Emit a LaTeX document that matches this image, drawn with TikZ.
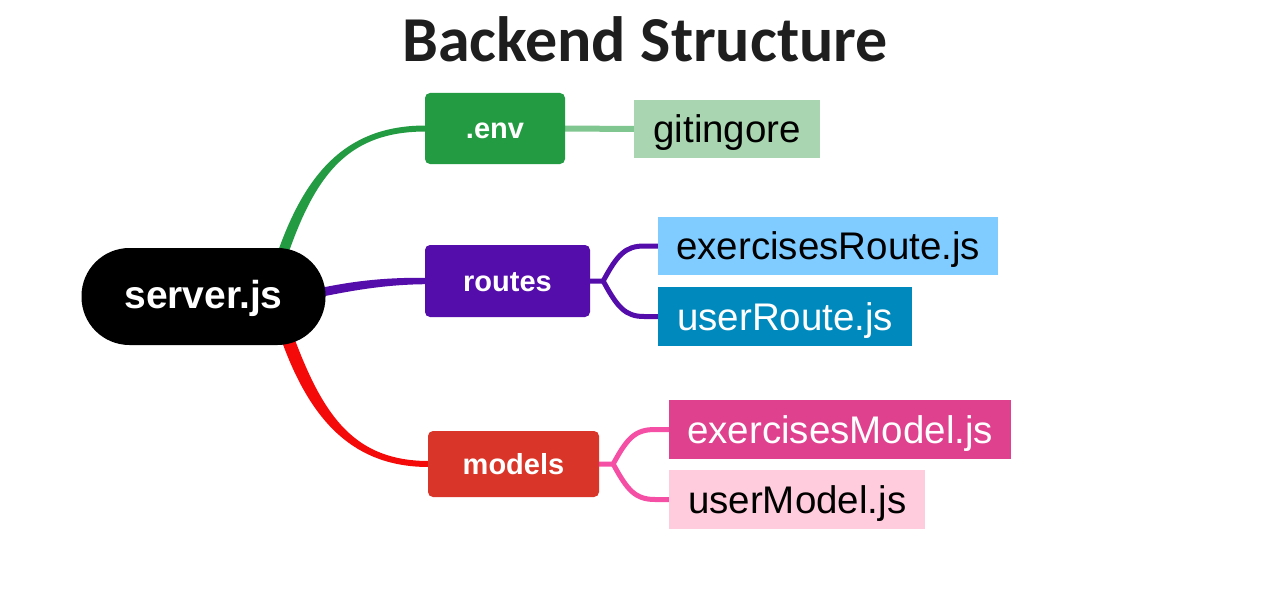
\documentclass[tikz,border=0pt]{standalone}
\usepackage{fontspec}
\setmainfont{Liberation Sans}
\newfontfamily\titlefont{Carlito}
\usetikzlibrary{calc,backgrounds}
\definecolor{envgreen}{HTML}{239B43}
\definecolor{gitgreen}{HTML}{A9D6B1}
\definecolor{gitline}{HTML}{80C690}
\definecolor{routepurple}{HTML}{540DAA}
\definecolor{exrblue}{HTML}{80CBFF}
\definecolor{urblue}{HTML}{0089BC}
\definecolor{modelred}{HTML}{D93629}
\definecolor{linered}{HTML}{F50A0A}
\definecolor{exmpink}{HTML}{E0418E}
\definecolor{umpink}{HTML}{FFCCDD}
\definecolor{pinkline}{HTML}{F54FA5}
\definecolor{titlegray}{HTML}{1E1E1E}
\tikzset{
  midbox/.style={rounded corners=5pt, inner sep=0pt, text=white,
    text height=21pt, text depth=0pt,
    font=\fontsize{29}{32}\selectfont\bfseries},
  leafbox/.style={inner sep=0pt, anchor=west,
    text height=28pt, text depth=1pt,
    font=\fontsize{38.5}{40}\selectfont},
  subconn/.style={line width=5pt},
}
\begin{document}
\begin{tikzpicture}[x=1pt,y=-1pt]
\useasboundingbox (0,0) rectangle (1281,599);

\node[font=\titlefont\fontsize{64}{68}\selectfont\bfseries, text=titlegray] (title) at (645,39) {Backend Structure};

% root
\node[fill=black, rounded corners=48pt, minimum width=244pt, minimum height=97pt,
  inner sep=0pt, text=white, text height=28pt, text depth=4pt,
  font=\fontsize{39}{42}\selectfont\bfseries] (server) at (203.5,296.5) {server.js};

% middle nodes
\node[midbox, fill=envgreen, minimum width=140pt, minimum height=71pt] (env) at (495,128.5) {.env};
\node[midbox, fill=routepurple, minimum width=165pt, minimum height=72pt] (routes) at (507.5,281) {routes};
\node[midbox, fill=modelred, minimum width=171pt, minimum height=66pt] (models) at (513.5,464) {models};

% leaves
\node[leafbox, fill=gitgreen, minimum width=186pt, minimum height=58pt] (git) at (634,129) {gitingore};
\node[leafbox, fill=exrblue, minimum width=340pt, minimum height=58pt] (exr) at (658,246) {exercisesRoute.js};
\node[leafbox, fill=urblue, text=white, minimum width=254pt, minimum height=59pt] (ur) at (658,316.5) {userRoute.js};
\node[leafbox, fill=exmpink, text=white, minimum width=342pt, minimum height=59pt] (exm) at (669,429.5) {exercisesModel.js};
\node[leafbox, fill=umpink, minimum width=256pt, minimum height=59pt] (um) at (669,499.5) {userModel.js};

% junction points
\coordinate (rj) at ($(routes.east)+(13,0)$);
\coordinate (mj) at ($(models.east)+(14,0)$);

\begin{scope}[on background layer]
\fill[white] (0,0) rectangle (1281,599);
% tapered root connectors
\fill[envgreen] ($(server.north east)+(-47,1.5)$) .. controls (308,168) and (350,125.5) .. ($(env.west)+(1,-3)$)
  -- ($(env.west)+(1,3)$) .. controls (350,131.5) and (317,172) .. ($(server.north east)+(-37,4.5)$) -- cycle;
\fill[routepurple] ($(server.east)+(-3,-9)$) .. controls (360,280) and (390,277.5) .. ($(routes.west)+(1,-3.2)$)
  -- ($(routes.west)+(1,3.2)$) .. controls (390,284.5) and (360,289) .. ($(server.east)+(-3,0)$) -- cycle;
\fill[linered] ($(server.south east)+(-43,-1.5)$) .. controls (312,423) and (355,467) .. ($(models.west)+(1,3)$)
  -- ($(models.west)+(1,-3)$) .. controls (355,461) and (324,417) .. ($(server.south east)+(-31,-6)$) -- cycle;
% leaf connectors
\draw[subconn, line width=6pt, gitline] (env.east) -- (git.west);
\draw[subconn, routepurple] (routes.east) -- (rj)
  .. controls ($(rj)+(14,-26)$) and ($(rj)+(22,-35)$) .. ($(exr.west)+(-14,0)$) -- (exr.west);
\draw[subconn, routepurple] (rj)
  .. controls ($(rj)+(14,26)$) and ($(rj)+(22,35.5)$) .. ($(ur.west)+(-14,0)$) -- (ur.west);
\draw[subconn, pinkline] (models.east) -- (mj)
  .. controls ($(mj)+(14,-26)$) and ($(mj)+(22,-34.5)$) .. ($(exm.west)+(-14,0)$) -- (exm.west);
\draw[subconn, pinkline] (mj)
  .. controls ($(mj)+(14,26)$) and ($(mj)+(22,35.5)$) .. ($(um.west)+(-14,0)$) -- (um.west);
\end{scope}

\end{tikzpicture}
\end{document}
